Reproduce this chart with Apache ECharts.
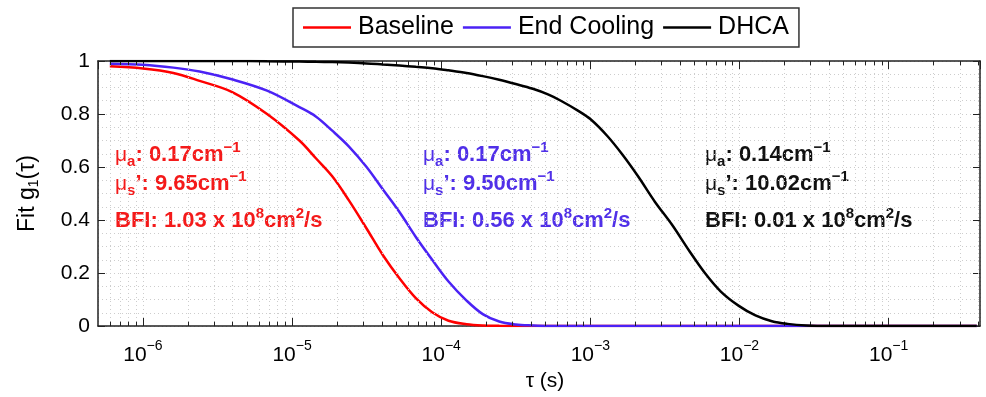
<!DOCTYPE html>
<html>
<head>
<meta charset="utf-8">
<script src="https://cdn.jsdelivr.net/npm/echarts@6/dist/echarts.min.js"></script>
<style>
html,body{margin:0;padding:0;background:#fff;}
#chart{width:986px;height:397px;}
</style>
</head>
<body>
<div id="chart"></div>
<script>
// ---- data ----
const tau = [6e-7, 1e-6, 1.6e-6, 2.4e-6, 4e-6, 6.8e-6, 1.12e-5, 1.45e-5, 1.86e-5, 2.4e-5,
  3.16e-5, 4.07e-5, 5.25e-5, 6.76e-5, 8.7e-5, 1.12e-4, 1.48e-4, 1.9e-4, 2.45e-4, 3.16e-4,
  4.07e-4, 5.2e-4, 6.3e-4, 8.3e-4, 1e-3, 1.3e-3, 1.64e-3, 2.1e-3, 2.7e-3, 3.55e-3,
  4.6e-3, 5.9e-3, 7.5e-3, 9.9e-3, 1.28e-2, 1.65e-2, 2.1e-2, 2.8e-2, 4e-2, 0.1, 0.39];
const baseline = [0.98, 0.972, 0.955, 0.925, 0.882, 0.80, 0.70, 0.632, 0.565, 0.475,
  0.368, 0.267, 0.18, 0.105, 0.052, 0.02, 0.007, 0.002, 0.0005, 0,
  0, 0, 0, 0, 0, 0, 0, 0, 0, 0,
  0, 0, 0, 0, 0, 0, 0, 0, 0, 0, 0];
const endCooling = [0.99, 0.986, 0.975, 0.96, 0.93, 0.888, 0.826, 0.79, 0.737, 0.678,
  0.60, 0.515, 0.43, 0.336, 0.25, 0.168, 0.096, 0.045, 0.017, 0.006,
  0.002, 0, 0, 0, 0, 0, 0, 0, 0, 0,
  0, 0, 0, 0, 0, 0, 0, 0, 0, 0, 0];
const dhca = [1.0, 1.0, 1.0, 1.0, 1.0, 0.999, 0.998, 0.997, 0.996, 0.994,
  0.991, 0.987, 0.983, 0.978, 0.973, 0.965, 0.955, 0.943, 0.929, 0.913,
  0.896, 0.874, 0.851, 0.812, 0.781, 0.717, 0.647, 0.563, 0.47, 0.38,
  0.284, 0.198, 0.13, 0.076, 0.04, 0.018, 0.008, 0.002, 0, 0, 0];
const seriesNames = ['Baseline', 'End Cooling', 'DHCA'];
const seriesColors = ['#ff0000', '#4b22f5', '#000000'];
const textColors = ['#f41a1a', '#5030e8', '#111111'];
const xDecades = [-6, -5, -4, -3, -2, -1];
const minorMult = [2, 3, 4, 5, 6, 7, 8, 9];
const xMin = 5e-7, xMax = 0.41;
const annotations = [
  { mua: '0.17', mus: '9.65', bfi: '1.03' },
  { mua: '0.17', mus: '9.50', bfi: '0.56' },
  { mua: '0.14', mus: '10.02', bfi: '0.01' }
];

// ---- chart ----
const FONT = '"Liberation Sans", Arial, Helvetica, sans-serif';
const chart = echarts.init(document.getElementById('chart'), null, { renderer: 'canvas', width: 986, height: 397 });

const minorVals = [];
for (let e = -7; e <= -1; e++) {
  for (const m of minorMult) {
    const v = m * Math.pow(10, e);
    if (v > xMin && v < xMax) minorVals.push(v);
  }
}
const gridLine = { color: '#cdcdcd', width: 1, type: [1, 3] };
const minorGridData = minorVals.map(v => [{ coord: [v, 0] }, { coord: [v, 1] }]);
const minorTickData = [];
minorVals.forEach(v => {
  minorTickData.push([{ coord: [v, 0] }, { coord: [v, 0.016] }]);
  minorTickData.push([{ coord: [v, 1] }, { coord: [v, 0.984] }]);
});

const allValues = [baseline, endCooling, dhca];
const series = seriesNames.map((name, i) => ({
  name: name,
  type: 'line',
  data: tau.map((t, k) => [t, allValues[i][k]]),
  symbol: 'none',
  showSymbol: false,
  smooth: 0.35,
  lineStyle: { color: seriesColors[i], width: 2.5 },
  itemStyle: { color: seriesColors[i] },
  z: 3 + i,
  silent: true
}));
const anchor = [[tau[0], baseline[0]]];
series.unshift({
  name: 'grid',
  type: 'line',
  data: anchor,
  symbol: 'none',
  lineStyle: { opacity: 0 },
  z: 1,
  silent: true,
  markLine: {
    silent: true,
    precision: 20,
    symbol: ['none', 'none'],
    label: { show: false },
    animation: false,
    lineStyle: gridLine,
    data: minorGridData
  }
});
series.push({
  name: 'ticks',
  type: 'line',
  data: anchor,
  symbol: 'none',
  lineStyle: { opacity: 0 },
  z: 6,
  silent: true,
  markLine: {
    silent: true,
    precision: 20,
    symbol: ['none', 'none'],
    label: { show: false },
    animation: false,
    lineStyle: { color: '#222', width: 1, type: 'solid' },
    data: minorTickData
  }
});

function annoLines(a) {
  return [
    '{mu|μ}{sub|a}{t|: ' + a.mua + 'cm}{sup|−1}',
    '{mu|μ}{sub|s}{t|’: ' + a.mus + 'cm}{sup|−1}',
    '{t|BFI: ' + a.bfi + ' x 10}{sup|8}{t|cm}{sup|2}{t|/s}'
  ];
}
const annoX = [115, 423, 705];
const annoY = [155, 184, 221];
const graphics = [];
annotations.forEach((a, i) => {
  annoLines(a).forEach((txt, j) => {
    graphics.push({
      type: 'text',
      silent: true,
      style: {
        x: annoX[i], y: annoY[j],
        text: txt,
        verticalAlign: 'middle',
        align: 'left',
        fill: textColors[i],
        rich: {
          t: { fontSize: 22, fontWeight: 'bold', fontFamily: FONT, fill: textColors[i] },
          mu: { fontSize: 21, fontWeight: 'normal', fontFamily: FONT, fill: textColors[i] },
          sub: { fontSize: 15, fontWeight: 'bold', fontFamily: FONT, fill: textColors[i], padding: [14, 0, 0, 0] },
          sup: { fontSize: 15, fontWeight: 'bold', fontFamily: FONT, fill: textColors[i], padding: [0, 0, 14, 0] }
        }
      }
    });
  });
});

const option = {
  animation: false,
  backgroundColor: '#ffffff',
  grid: { left: 98, right: 6, top: 61, bottom: 70, containLabel: false },
  legend: {
    data: seriesNames,
    left: 293,
    top: 8,
    padding: [7, 10, 7, 10],
    itemGap: 9,
    itemWidth: 48,
    itemHeight: 2.5,
    icon: 'rect',
    borderColor: '#333',
    borderWidth: 1.5,
    borderRadius: 0,
    backgroundColor: '#fff',
    selectedMode: false,
    textStyle: { fontSize: 25, fontFamily: FONT, color: '#000', padding: [0, 0, 0, 2] }
  },
  xAxis: [{
    type: 'log',
    logBase: 10,
    min: xMin,
    max: xMax,
    position: 'bottom',
    name: 'τ (s)',
    nameLocation: 'middle',
    nameGap: 45,
    nameTextStyle: { fontSize: 21, fontFamily: FONT, color: '#000', padding: [0, 0, 0, 12] },
    axisLine: { show: true, onZero: false, lineStyle: { color: '#222', width: 1.5 } },
    axisTick: { show: true, inside: true, length: 8, lineStyle: { color: '#222', width: 1 } },
    axisLabel: {
      show: true,
      margin: 13,
      showMinLabel: false,
      showMaxLabel: false,
      color: '#000',
      formatter: function (v) {
        const e = Math.round(Math.log10(v));
        if (Math.abs(Math.log10(v) - e) > 1e-6 || xDecades.indexOf(e) < 0) return '';
        return '{b|10}{s|−' + (-e) + '}';
      },
      rich: {
        b: { fontSize: 21, fontFamily: FONT, color: '#000' },
        s: { fontSize: 14, fontFamily: FONT, color: '#000', padding: [0, 0, 18, 0] }
      }
    },
    splitLine: { show: true, lineStyle: gridLine }
  }, {
    type: 'log',
    logBase: 10,
    min: xMin,
    max: xMax,
    position: 'top',
    axisLine: { show: true, onZero: false, lineStyle: { color: '#222', width: 1.5 } },
    axisTick: { show: true, inside: true, length: 8, lineStyle: { color: '#222', width: 1 } },
    axisLabel: { show: false },
    splitLine: { show: false }
  }],
  yAxis: [{
    type: 'value',
    min: 0,
    max: 1,
    interval: 0.2,
    position: 'left',
    name: '{n|Fit g}{sub|1}{n|(τ)}',
    nameLocation: 'middle',
    nameGap: 57,
    nameTextStyle: {
      color: '#000',
      rich: {
        n: { fontSize: 23, fontFamily: FONT, color: '#000' },
        sub: { fontSize: 14, fontFamily: FONT, color: '#000', padding: [12, 0, 0, 0] }
      }
    },
    axisLine: { show: true, onZero: false, lineStyle: { color: '#222', width: 1.5 } },
    axisTick: { show: true, inside: true, length: 7, lineStyle: { color: '#222', width: 1 } },
    minorTick: { show: true, splitNumber: 4, length: 0 },
    minorSplitLine: { show: true, lineStyle: gridLine },
    axisLabel: {
      margin: 8,
      fontSize: 21,
      fontFamily: FONT,
      color: '#000',
      formatter: function (v) { return String(Math.round(v * 10) / 10); }
    },
    splitLine: { show: true, lineStyle: gridLine }
  }, {
    type: 'value',
    min: 0,
    max: 1,
    interval: 0.2,
    position: 'right',
    axisLine: { show: true, onZero: false, lineStyle: { color: '#222', width: 1.5 } },
    axisTick: { show: true, inside: true, length: 7, lineStyle: { color: '#222', width: 1 } },
    axisLabel: { show: false },
    splitLine: { show: false }
  }],
  series: series,
  graphic: graphics
};
chart.setOption(option);
</script>
</body>
</html>
